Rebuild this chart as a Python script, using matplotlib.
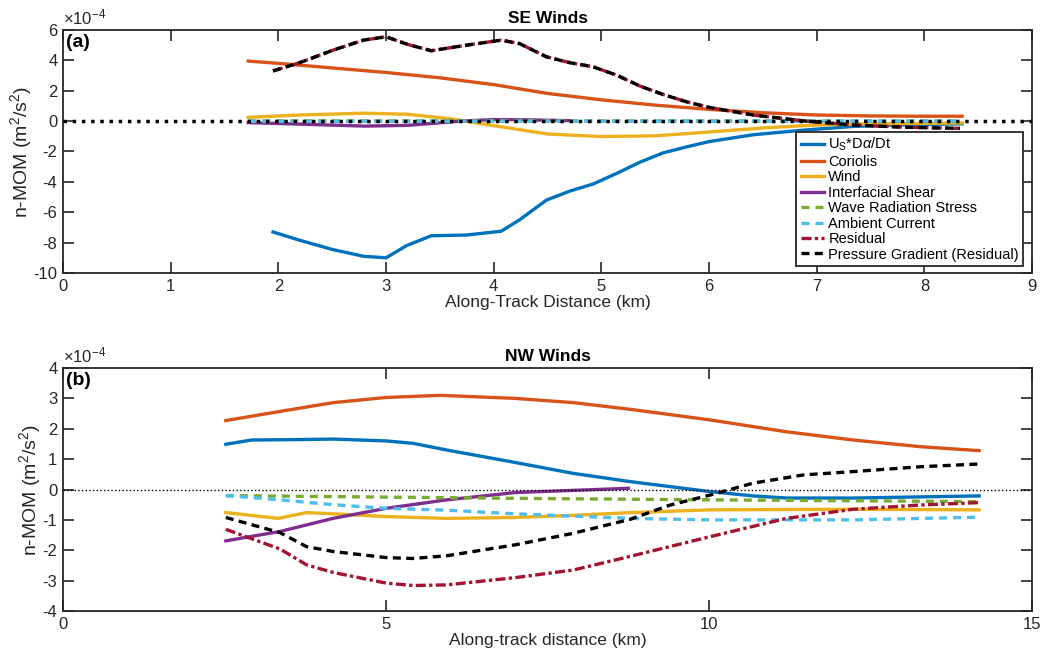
import matplotlib
matplotlib.use("Agg")
import matplotlib.pyplot as plt

plt.rcParams['font.family'] = ['Liberation Sans', 'DejaVu Sans']
plt.rcParams['axes.unicode_minus'] = False
plt.rcParams['mathtext.fontset'] = 'custom'
plt.rcParams['mathtext.rm'] = 'Liberation Sans'
plt.rcParams['mathtext.it'] = 'Liberation Sans:italic'

# values in units of 1e-4 m^2/s^2, x in km
# --- SE winds (panel a) ---
se_us_x = [1.95, 2.2, 2.5, 2.79, 3.0, 3.19, 3.42, 3.75, 4.07, 4.24, 4.49, 4.71,
           4.92, 5.14, 5.36, 5.57, 5.79, 6.0, 6.41, 6.87, 7.34, 7.8, 8.35]
se_us_y = [-7.3, -7.85, -8.45, -8.9, -9.0, -8.2, -7.55, -7.5, -7.25, -6.5, -5.2, -4.6,
           -4.15, -3.45, -2.7, -2.1, -1.7, -1.35, -0.9, -0.6, -0.35, -0.25, -0.18]
se_cor_x = [1.72, 2.0, 2.5, 3.0, 3.5, 4.0, 4.5, 5.0, 5.5, 6.0, 6.5, 7.0, 7.5, 8.0, 8.35]
se_cor_y = [3.95, 3.8, 3.5, 3.2, 2.85, 2.4, 1.82, 1.4, 1.05, 0.77, 0.55, 0.4, 0.34, 0.32, 0.32]
se_wind_x = [1.72, 2.2, 2.8, 3.2, 3.6, 4.0, 4.5, 5.0, 5.5, 6.0, 6.5, 7.0, 7.5, 8.0, 8.35]
se_wind_y = [0.25, 0.4, 0.52, 0.45, 0.15, -0.3, -0.85, -1.02, -0.97, -0.72, -0.45, -0.26, -0.18, -0.15, -0.12]
se_shear_x = [1.72, 2.2, 2.8, 3.2, 3.7, 4.0, 4.3, 4.71]
se_shear_y = [-0.1, -0.2, -0.33, -0.28, 0.0, 0.1, 0.08, 0.03]
se_wave_x = [1.72, 3.0, 5.0, 7.0, 8.35]
se_wave_y = [0.01, 0.01, 0.01, 0.0, 0.0]
se_amb_x = [1.72, 3.0, 5.0, 7.0, 8.35]
se_amb_y = [-0.01, -0.01, 0.0, 0.0, 0.0]
se_pg_x = [1.95, 2.2, 2.5, 2.79, 3.0, 3.2, 3.42, 3.75, 4.07, 4.24, 4.49, 4.71,
           4.92, 5.14, 5.36, 5.57, 5.79, 6.0, 6.41, 6.87, 7.34, 7.8, 8.33]
se_pg_y = [3.3, 3.85, 4.65, 5.33, 5.55, 5.05, 4.63, 5.0, 5.33, 5.1, 4.23, 3.84,
           3.58, 3.03, 2.3, 1.76, 1.27, 0.9, 0.4, 0.02, -0.26, -0.4, -0.48]
se_res_x = se_pg_x
se_res_y = se_pg_y

# --- NW winds (panel b) ---
nw_cor_x = [2.52, 3.3, 4.18, 5.0, 5.84, 7.0, 7.9, 8.78, 10.02, 11.2, 12.23, 13.27, 14.18]
nw_cor_y = [2.27, 2.55, 2.86, 3.03, 3.1, 3.0, 2.86, 2.64, 2.29, 1.9, 1.63, 1.41, 1.28]
nw_us_x = [2.52, 2.92, 3.5, 4.18, 5.0, 5.42, 5.94, 7.0, 7.9, 8.78, 10.02, 10.68, 11.2, 12.23, 14.18]
nw_us_y = [1.49, 1.63, 1.64, 1.66, 1.6, 1.52, 1.3, 0.89, 0.53, 0.26, -0.07, -0.21, -0.28, -0.28, -0.21]
nw_wind_x = [2.52, 3.33, 3.77, 4.18, 5.0, 5.94, 7.0, 7.9, 8.78, 10.02, 12.23, 14.18]
nw_wind_y = [-0.76, -0.95, -0.76, -0.8, -0.89, -0.95, -0.92, -0.85, -0.76, -0.67, -0.65, -0.67]
nw_shear_x = [2.52, 3.36, 4.18, 5.0, 5.94, 7.0, 8.75]
nw_shear_y = [-1.69, -1.38, -0.95, -0.62, -0.34, -0.1, 0.04]
nw_wave_x = [2.52, 5.0, 7.0, 10.02, 12.23, 14.18]
nw_wave_y = [-0.2, -0.25, -0.29, -0.34, -0.37, -0.4]
nw_amb_x = [2.52, 3.36, 4.18, 5.0, 5.94, 7.0, 8.78, 10.02, 12.23, 14.18]
nw_amb_y = [-0.2, -0.34, -0.5, -0.62, -0.68, -0.8, -0.95, -1.0, -1.0, -0.91]
nw_res_x = [2.52, 3.36, 3.77, 4.18, 5.0, 5.42, 5.94, 7.0, 7.9, 8.78, 10.02, 11.2, 12.23, 13.27, 14.18]
nw_res_y = [-1.31, -1.96, -2.48, -2.73, -3.08, -3.16, -3.14, -2.9, -2.65, -2.2, -1.55, -0.95, -0.65, -0.51, -0.43]
nw_pg_x = [2.52, 3.36, 3.77, 4.18, 5.0, 5.42, 5.94, 7.0, 7.9, 8.78, 9.4, 10.02, 10.68, 11.46, 12.23, 13.27, 14.18]
nw_pg_y = [-0.92, -1.42, -1.88, -2.04, -2.24, -2.27, -2.18, -1.82, -1.44, -0.98, -0.51, -0.18, 0.21, 0.48, 0.59, 0.75, 0.84]

labels = [r'U$_\mathregular{S}$*D$\alpha$/Dt', 'Coriolis', 'Wind', 'Interfacial Shear',
          'Wave Radiation Stress', 'Ambient Current', 'Residual', 'Pressure Gradient (Residual)']
colors = ['#0072BD', '#D95319', '#EDB120', '#7E2F8E', '#77AC30', '#4DBEEE', '#A2142F', 'black']
styles = ['-', '-', '-', '-', (0, (2.4, 1.8)), (0, (2.4, 1.8)), (0, (3, 1.0, 1, 1.0)), (0, (2.4, 1.6))]
LW = 2.4


def draw(ax, series, xlim, ylim, xticks, yticks, title, tag, xlabel, zero_lw, ylab_x):
    for (x, y), lab, c, ls in zip(series, labels, colors, styles):
        ax.plot(x, y, color=c, ls=ls, lw=LW, label=lab)
    ax.axhline(0, color='black', ls=':', lw=zero_lw, zorder=5)
    ax.set_xlim(xlim)
    ax.set_ylim(ylim)
    ax.set_xticks(xticks)
    ax.set_yticks(yticks)
    ax.tick_params(direction='in', length=8, width=1.2, top=True, right=True,
                   labelsize=12, colors='#262626', pad=4)
    for s in ax.spines.values():
        s.set_linewidth(1.3)
        s.set_color('#262626')
    ax.set_title(title, fontsize=12.5, fontweight='bold', pad=5)
    ax.set_xlabel(xlabel, fontsize=12.5, color='#262626', labelpad=1)
    ax.set_ylabel(r'n-MOM (m$^2$/s$^2$)', fontsize=14, color='#262626')
    ax.yaxis.set_label_coords(ylab_x, 0.5)
    ax.text(0.003, 0.985, tag, transform=ax.transAxes, fontsize=14, fontweight='bold',
            va='top', ha='left')
    ax.text(0.0, 1.012, r'$\times$10$^{-4}$', transform=ax.transAxes, fontsize=12,
            color='#262626', va='bottom', ha='left')


fig = plt.figure(figsize=(10.42, 6.54), dpi=100)
ax1 = fig.add_axes([0.0605, 0.5826, 0.930, 0.3716])
ax2 = fig.add_axes([0.0605, 0.0657, 0.930, 0.3716])

se = [(se_us_x, se_us_y), (se_cor_x, se_cor_y), (se_wind_x, se_wind_y), (se_shear_x, se_shear_y),
      (se_wave_x, se_wave_y), (se_amb_x, se_amb_y), (se_res_x, se_res_y), (se_pg_x, se_pg_y)]
nw = [(nw_us_x, nw_us_y), (nw_cor_x, nw_cor_y), (nw_wind_x, nw_wind_y), (nw_shear_x, nw_shear_y),
      (nw_wave_x, nw_wave_y), (nw_amb_x, nw_amb_y), (nw_res_x, nw_res_y), (nw_pg_x, nw_pg_y)]

draw(ax1, se, (0, 9), (-10, 6), range(0, 10), range(-10, 7, 2), 'SE Winds', '(a)',
     'Along-Track Distance (km)', 2.5, -0.030)
draw(ax2, nw, (0, 15), (-4, 4), range(0, 16, 5), range(-4, 5), 'NW Winds', '(b)',
     'Along-track distance (km)', 1.0, -0.021)

leg = ax1.legend(loc='lower right', bbox_to_anchor=(0.991, 0.029), borderaxespad=0,
                 fontsize=10.5, handlelength=1.6, handletextpad=0.3, labelspacing=0.1,
                 borderpad=0.3, fancybox=False, framealpha=1)
leg.get_frame().set_edgecolor('#262626')
leg.get_frame().set_linewidth(1.3)
leg.set_zorder(10)

fig.savefig('out.png', dpi=100)
